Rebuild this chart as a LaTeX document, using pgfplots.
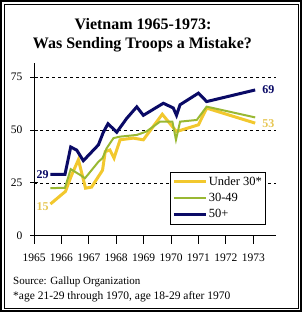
\documentclass[border=0pt]{standalone}
\usepackage{pgfplots}
\pgfplotsset{compat=1.18}
\usepackage{fontspec}
\setmainfont{Liberation Serif}
\definecolor{cyel}{HTML}{F2C82E}
\definecolor{cyellab}{HTML}{E6C652}
\definecolor{cgrn}{HTML}{99B832}
\definecolor{cnavy}{HTML}{0A0A66}
\begin{document}
\begin{tikzpicture}[x=1pt,y=1pt]
\useasboundingbox (0,0) rectangle (302,312);
\draw[line width=2pt] (1,1) rectangle (301,311);
\draw[line width=0.8pt] (4,4) rectangle (298,308);
\node[font=\fontsize{16}{18}\selectfont\bfseries] at (143,288) {Vietnam 1965-1973:};
\node[font=\fontsize{16}{18}\selectfont\bfseries] at (142.5,267.5) {Was Sending Troops a Mistake?};
\node[anchor=west,font=\fontsize{11}{13}\selectfont,inner sep=0pt] at (13,30.3) {Source: Gallup Organization};
\node[anchor=west,font=\fontsize{11.5}{13}\selectfont,inner sep=0pt] at (13,15) {*age 21-29 through 1970, age 18-29 after 1970};
\begin{axis}[
  at={(34pt,76.3pt)}, anchor=south west,
  scale only axis, width=242pt, height=173.2pt,
  xmin=1965, xmax=1973.83, ymin=0, ymax=82,
  axis x line=bottom, axis y line=left,
  axis line style={-, black, line width=0.8pt},
  xtick={1965,1966,...,1973},
  xticklabels={1965,1966,1967,1968,1969,1970,1971,1972,1973},
  ytick={0,25,50,75},
  xtick align=outside, ytick align=center,
  major tick length=8pt,
  tick style={black, line width=0.8pt},
  ymajorgrids, grid style={black, dashed, line width=0.6pt},
  /pgf/number format/assume math mode=true,
  ticklabel style={font=\fontsize{11.5}{13}\selectfont},
  xticklabel style={yshift=-7pt},
  yticklabel style={xshift=-4pt},
  clip=false,
  legend cell align=left,
  legend style={at={(0.562,0.3695)}, anchor=north west, draw=black, line width=0.6pt,
    font=\fontsize{12.5}{14}\selectfont, inner xsep=2pt, inner ysep=3pt, row sep=3.5pt,
    nodes={inner sep=1.5pt}},
  legend image code/.code={\draw[#1] (0pt,0pt) -- (32pt,0pt);},
]
\addplot[cyel, line width=3pt] coordinates {
(1965.6,15) (1966.15,21) (1966.35,28) (1966.62,36) (1966.88,22.5) (1967.1,23)
(1967.3,27) (1967.5,31) (1967.6,39.8) (1967.77,40.6) (1967.92,36.7) (1968.14,45.4)
(1968.62,46.2) (1968.99,45.4) (1969.68,57.5) (1970.2,49.3) (1971.0,52.5)
(1971.3,60.4) (1973.07,53.3)};
\addlegendentry{Under 30*}
\addplot[cgrn, line width=2pt] coordinates {
(1965.6,22.5) (1966.13,22.7) (1966.34,31.5) (1966.68,28.8) (1966.86,27.2) (1967.1,31)
(1967.35,35) (1967.5,36.7) (1967.65,41.4) (1967.9,46.2) (1968.14,46.9) (1968.75,47.7)
(1969.1,49.3) (1969.6,54) (1970.05,54) (1970.18,45.4) (1970.33,54) (1970.94,54.8)
(1971.3,61.1) (1973.07,56)};
\addlegendentry{30-49}
\addplot[cnavy, line width=3pt] coordinates {
(1965.6,29) (1966.13,29) (1966.34,42) (1966.56,40.5) (1966.8,35.5) (1967.35,43)
(1967.53,49) (1967.7,53) (1968.02,49) (1968.38,55.5) (1968.75,61) (1968.99,57)
(1969.72,62.7) (1970.08,60.5) (1970.2,57) (1970.33,62) (1971.0,67.5) (1971.3,63.5)
(1973.07,69)};
\addlegendentry{50+}
\node[anchor=east, font=\fontsize{12}{14}\selectfont\bfseries, text=cnavy, inner sep=1.5pt] at (axis cs:1965.6,29) {29};
\node[anchor=east, font=\fontsize{12}{14}\selectfont\bfseries, text=cyellab, inner sep=1.5pt] at (axis cs:1965.6,14) {15};
\node[anchor=west, font=\fontsize{12}{14}\selectfont\bfseries, text=cnavy, inner sep=0pt, xshift=7pt] at (axis cs:1973.07,69) {69};
\node[anchor=west, font=\fontsize{12}{14}\selectfont\bfseries, text=cyellab, inner sep=0pt, xshift=7pt] at (axis cs:1973.07,53) {53};
\end{axis}
\end{tikzpicture}
\end{document}
